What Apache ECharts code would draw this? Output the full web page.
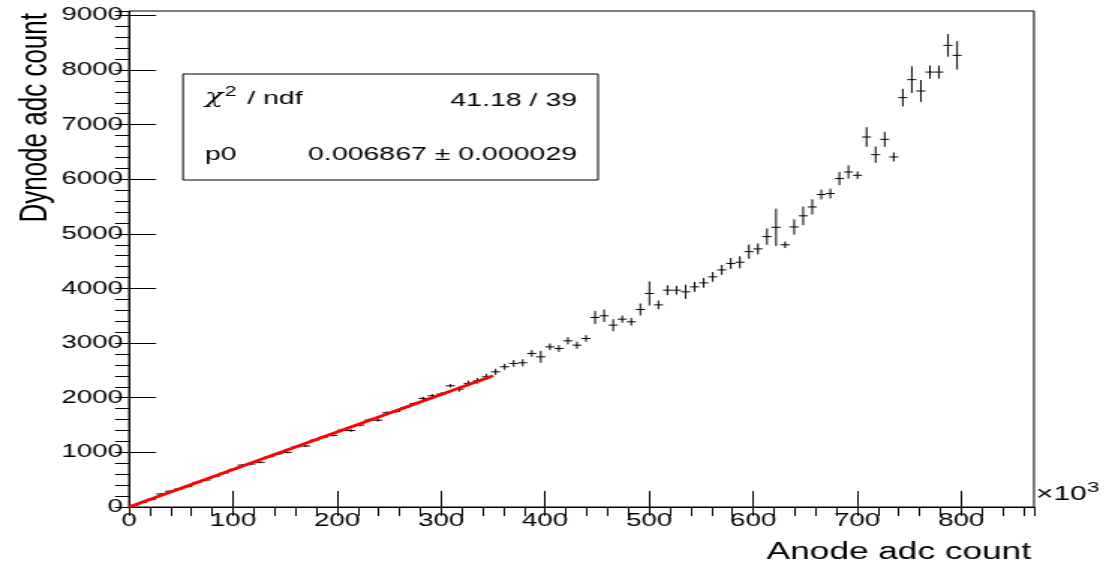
<!DOCTYPE html>
<html>
<head>
<meta charset="utf-8">
<title>Dynode vs Anode</title>
<script src="https://cdn.jsdelivr.net/npm/echarts@6/dist/echarts.min.js"></script>
<style>
  html, body { margin: 0; padding: 0; background: #ffffff; overflow: hidden; }
  /* The canvas is laid out narrower and stretched horizontally, giving the wide ROOT-style lettering. */
  #chart { width: 740px; height: 567px; transform: scaleX(1.4986486); transform-origin: 0 0; }
</style>
</head>
<body>
<div id="chart"></div>
<script>
// Profile binning along the anode axis (units of 10^3 adc counts)
const xMin = 0;
const xMax = 870;
const nBins = 100;
const binWidth = (xMax - xMin) / nBins;

// Mean dynode adc count per anode bin
const dynode = [
  30, 85, 141, 238, 290, 329, 372, 450, 494, 560,
  620, 690, 768, 787, 818, 920, 975, 1000, 1103, 1116,
  1225, 1280, 1310, 1408, 1400, 1500, 1591, 1590, 1725, 1750,
  1820, 1890, 1988, 2036, 2067, 2219, 2158, 2263, 2310, 2384,
  2475, 2567, 2628, 2640, 2811, 2749, 2932, 2902, 3042, 2963,
  3085, 3470, 3500, 3329, 3439, 3390, 3616, 3909, 3700, 3969,
  3969, 3939, 4030, 4103, 4213, 4340, 4457, 4480, 4675, 4725,
  4950, 5120, 4800, 5127, 5330, 5493, 5720, 5738, 6012, 6133,
  6073, 6773, 6450, 6731, 6408, 7494, 7823, 7615, 7962, 7962,
  8451, 8268
];

// Error on the mean for each bin
const dynodeErr = [
  8, 8, 10, 10, 10, 12, 12, 12, 14, 14,
  15, 15, 15, 16, 16, 18, 18, 18, 20, 20,
  20, 22, 22, 22, 24, 24, 25, 25, 26, 26,
  28, 28, 30, 30, 32, 32, 45, 50, 50, 55,
  55, 55, 60, 65, 60, 110, 60, 60, 65, 65,
  60, 120, 115, 110, 65, 70, 110, 220, 80, 90,
  80, 130, 90, 90, 90, 90, 100, 110, 130, 100,
  150, 340, 60, 140, 170, 140, 90, 90, 120, 120,
  70, 180, 150, 137, 82, 160, 245, 200, 120, 120,
  207, 260
];

// Linear fit through the origin: dynode = p0 * anode
const fitP0 = 0.006867;
const fitP0Err = 0.000029;
const fitChi2 = 41.18;
const fitNdf = 39;
const fitRange = [0, 350];

const xTickStep = 100;
const xMinorStep = 20;
const yMax = 9080;
const yTickStep = 1000;
const yMinorStep = 200;

// Bin centres of the profile
const anode = dynode.map((_, i) => xMin + (i + 0.5) * binWidth);
const points = dynode.map((v, i) => [anode[i], v, dynodeErr[i]]);
const fitLine = fitRange.map(x => [x, fitP0 * 1000 * x]);

const S = 1109 / 740;          // horizontal stretch applied by CSS
const FONT = "'Liberation Sans', Arial, Helvetica, sans-serif";
const GREEK = "'DejaVu Serif', 'Liberation Serif', serif";
const BLACK = '#000000';

const chart = echarts.init(document.getElementById('chart'), null, { renderer: 'canvas' });

const tickLine = { color: BLACK, width: 1 };
const plain = v => String(Math.round(v));

chart.setOption({
  animation: false,
  backgroundColor: '#ffffff',
  grid: {
    left: 129 / S, right: 740 - 1034 / S, top: 11, bottom: 60,
    show: true, borderColor: BLACK, borderWidth: 1,
    backgroundColor: 'transparent',
    containLabel: false, outerBoundsMode: 'none'
  },
  xAxis: [
    {
      type: 'value', min: xMin, max: xMax, interval: xTickStep,
      axisLine: { show: true, onZero: false, lineStyle: tickLine },
      axisTick: { show: true, inside: true, length: 16, lineStyle: tickLine },
      minorTick: { show: false },
      splitLine: { show: false },
      axisLabel: { color: BLACK, fontSize: 18.5, fontFamily: FONT, margin: 4, formatter: plain, showMaxLabel: false, showMinLabel: true }
    },
    {
      type: 'value', min: xMin, max: xMax, interval: xMinorStep,
      axisLine: { show: false },
      axisTick: { show: true, inside: true, length: 9, lineStyle: tickLine },
      splitLine: { show: false },
      axisLabel: { show: false }
    }
  ],
  yAxis: [
    {
      type: 'value', min: 0, max: yMax, interval: yTickStep,
      axisLine: { show: true, onZero: false, lineStyle: tickLine },
      axisTick: { show: true, inside: true, length: 27 / S, lineStyle: tickLine },
      minorTick: { show: false },
      splitLine: { show: false },
      axisLabel: { color: BLACK, fontSize: 18.5, fontFamily: FONT, margin: 4, formatter: plain, showMaxLabel: false, showMinLabel: true }
    },
    {
      type: 'value', min: 0, max: yMax, interval: yMinorStep,
      axisLine: { show: false },
      axisTick: { show: true, inside: true, length: 14 / S, lineStyle: tickLine },
      splitLine: { show: false },
      axisLabel: { show: false }
    }
  ],
  series: [
    {
      name: 'profile',
      type: 'custom',
      xAxisIndex: 0, yAxisIndex: 0,
      data: points,
      z: 2,
      renderItem(params, api) {
        const x = api.value(0), y = api.value(1), e = api.value(2);
        const l = api.coord([x - binWidth / 2, y]);
        const r = api.coord([x + binWidth / 2, y]);
        const t = api.coord([x, y + e]);
        const b = api.coord([x, y - e]);
        return {
          type: 'group',
          children: [
            { type: 'line', shape: { x1: l[0], y1: l[1], x2: r[0], y2: r[1] }, style: { stroke: BLACK, lineWidth: 1 } },
            { type: 'line', shape: { x1: t[0], y1: t[1], x2: b[0], y2: b[1] }, style: { stroke: BLACK, lineWidth: 1 } }
          ]
        };
      }
    },
    {
      name: 'fit',
      type: 'line',
      xAxisIndex: 0, yAxisIndex: 0,
      data: fitLine,
      symbol: 'none',
      z: 3,
      lineStyle: { color: '#ff0000', width: 2.8 }
    }
  ],
  graphic: [
    // fit statistics box
    {
      type: 'rect', z: 10,
      shape: { x: 183 / S, y: 74, width: (598 - 183) / S, height: 106 },
      style: { fill: '#ffffff', stroke: BLACK, lineWidth: 1 }
    },
    {
      type: 'text', z: 11, x: 205 / S, y: 98,
      style: {
        text: '{chi|χ}{sup|2}{txt| / ndf}',
        textAlign: 'left', textVerticalAlign: 'middle',
        rich: {
          chi: { fill: BLACK, font: 'italic 20px ' + GREEK, verticalAlign: 'bottom', lineHeight: 20 },
          sup: { fill: BLACK, font: '14px ' + FONT, verticalAlign: 'bottom', lineHeight: 14, padding: [0, 2, 9, 1] },
          txt: { fill: BLACK, font: '19px ' + FONT, verticalAlign: 'bottom', lineHeight: 20 }
        }
      }
    },
    {
      type: 'text', z: 11, x: 577 / S, y: 101,
      style: { text: fitChi2.toFixed(2) + ' / ' + fitNdf, fill: BLACK, font: '19px ' + FONT, textAlign: 'right', textVerticalAlign: 'middle' }
    },
    {
      type: 'text', z: 11, x: 205 / S, y: 155,
      style: { text: 'p0', fill: BLACK, font: '19px ' + FONT, textAlign: 'left', textVerticalAlign: 'middle' }
    },
    {
      type: 'text', z: 11, x: 577 / S, y: 155,
      style: { text: fitP0.toFixed(6) + ' ± ' + fitP0Err.toFixed(6), fill: BLACK, font: '19px ' + FONT, textAlign: 'right', textVerticalAlign: 'middle' }
    },
    // axis exponent and titles
    {
      type: 'text', z: 11, x: 1036 / S, y: 494,
      style: {
        text: '{b|×10}{s|3}',
        textAlign: 'left', textVerticalAlign: 'middle',
        rich: {
          b: { fill: BLACK, font: '20px ' + FONT, verticalAlign: 'bottom', lineHeight: 20 },
          s: { fill: BLACK, font: '15px ' + FONT, verticalAlign: 'bottom', lineHeight: 15, padding: [0, 0, 9, 0] }
        }
      }
    },
    {
      type: 'text', z: 11, x: 1031 / S, y: 553,
      style: { text: 'Anode adc count', fill: BLACK, font: '23.5px ' + FONT, textAlign: 'right', textVerticalAlign: 'middle' }
    },
    {
      type: 'text', z: 11, x: 35 / S, y: 13, rotation: Math.PI / 2,
      style: { text: 'Dynode adc count', fill: BLACK, font: '26px ' + FONT, textAlign: 'right', textVerticalAlign: 'middle' }
    }
  ]
});
</script>
</body>
</html>
